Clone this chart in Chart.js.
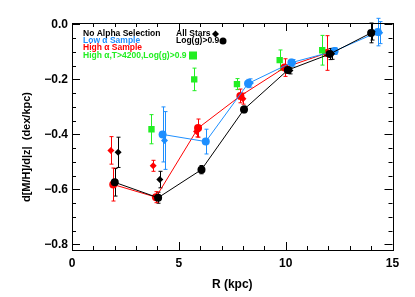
<!DOCTYPE html>
<html>
<head>
<meta charset="utf-8">
<script src="https://cdn.jsdelivr.net/npm/chart.js@4.4.1/dist/chart.umd.min.js"></script>
<style>
  html, body { margin: 0; padding: 0; background: #fff; }
  canvas { display: block; }
</style>
</head>
<body>
<canvas id="chart" width="415" height="297"></canvas>
<script>
// values: R (kpc), gradient (dex/kpc), error
const blackCircR = [2.0, 4.03, 6.06, 8.05, 10.1, 12.06, 14.0];
const blackCircV = [-0.574, -0.63, -0.528, -0.309, -0.166, -0.108, -0.031];
const blackCircE = [0.05, 0.02, 0.015, 0.012, 0.012, 0.02, 0.036];

const blackDiaR = [2.16, 4.11, 10.2, 12.15, 14.05];
const blackDiaV = [-0.465, -0.564, -0.168, -0.107, -0.027];
const blackDiaE = [0.055, 0.03, 0.012, 0.02, 0.03];

const redCircR = [1.93, 3.93, 5.9, 7.88, 9.95, 11.93];
const redCircV = [-0.582, -0.628, -0.377, -0.26, -0.157, -0.104];
const redCircE = [0.06, 0.02, 0.033, 0.025, 0.032, 0.063];

const redDiaR = [1.82, 3.8, 5.83, 8.0];
const redDiaV = [-0.458, -0.514, -0.389, -0.27];
const redDiaE = [0.05, 0.02, 0.02, 0.02];

const blueCircR = [4.24, 6.26, 8.24, 10.27, 12.29, 14.31];
const blueCircV = [-0.40, -0.426, -0.215, -0.139, -0.097, -0.028];
const blueCircE = [0.1, 0.045, 0.015, 0.012, 0.012, 0.05];

const blueDiaR = [4.33, 8.35, 10.35, 14.4];
const blueDiaV = [-0.422, -0.213, -0.14, -0.03];
const blueDiaE = [0.105, 0.015, 0.012, 0.04];

const greenR = [3.72, 5.72, 7.72, 9.72, 11.71];
const greenV = [-0.381, -0.2, -0.217, -0.13, -0.094];
const greenE = [0.053, 0.041, 0.02, 0.037, 0.054];

const xTicks = [0, 5, 10, 15];
const yTicks = [-0.8, -0.6, -0.4, -0.2, 0.0];

const BLACK = '#000000';
const RED = '#ff0000';
const BLUE = '#1e8fff';
const GREEN = '#22ee22';
const FONT = '"Liberation Sans", Arial, sans-serif';

function pts(xs, ys) {
    return xs.map((x, i) => ({ x: x, y: ys[i] }));
}

function series(xs, ys, errs, color, style, radius, line) {
    return {
        data: pts(xs, ys),
        errors: errs,
        showLine: line,
        borderColor: color,
        backgroundColor: color,
        borderWidth: 1,
        pointStyle: style,
        pointRadius: radius,
        pointBorderWidth: 0,
        pointBackgroundColor: color,
        pointBorderColor: color
    };
}

const datasets = [
    series(greenR, greenV, greenE, GREEN, 'rect', 4.5, false),
    series(blackDiaR, blackDiaV, blackDiaE, BLACK, 'rectRot', 3.5, false),
    series(blackCircR, blackCircV, blackCircE, BLACK, 'circle', 4, true),
    series(blueDiaR, blueDiaV, blueDiaE, BLUE, 'rectRot', 3.5, false),
    series(blueCircR, blueCircV, blueCircE, BLUE, 'circle', 4, true),
    series(redDiaR, redDiaV, redDiaE, RED, 'rectRot', 3.5, false),
    series(redCircR, redCircV, redCircE, RED, 'circle', 4, true)
];

// error bars through the scales
const errorBars = {
    id: 'errorBars',
    beforeDatasetsDraw(chart) {
        const ctx = chart.ctx;
        const xs = chart.scales.x, ys = chart.scales.y;
        ctx.save();
        ctx.lineWidth = 1;
        chart.data.datasets.forEach(ds => {
            ctx.strokeStyle = ds.borderColor;
            ds.data.forEach((p, i) => {
                const e = ds.errors[i];
                const px = Math.round(xs.getPixelForValue(p.x)) + 0.5;
                const y1 = ys.getPixelForValue(p.y + e);
                const y2 = ys.getPixelForValue(p.y - e);
                ctx.beginPath();
                ctx.moveTo(px, y1); ctx.lineTo(px, y2);
                ctx.moveTo(px - 2, y1); ctx.lineTo(px + 2, y1);
                ctx.moveTo(px - 2, y2); ctx.lineTo(px + 2, y2);
                ctx.stroke();
            });
        });
        ctx.restore();
    }
};

// box, inward ticks, y title, in-plot legend
const frame = {
    id: 'frame',
    afterDraw(chart) {
        const ctx = chart.ctx;
        const a = chart.chartArea;
        const xs = chart.scales.x, ys = chart.scales.y;
        ctx.save();
        ctx.strokeStyle = '#000';
        ctx.lineWidth = 1;
        ctx.strokeRect(Math.round(a.left) + 0.5, Math.round(a.top) + 0.5,
            Math.round(a.right - a.left), Math.round(a.bottom - a.top));
        ctx.beginPath();
        for (let v = 0; v <= 15; v += 1) {
            const px = Math.round(xs.getPixelForValue(v)) + 0.5;
            const len = v % 5 === 0 ? 8 : 4;
            ctx.moveTo(px, a.bottom); ctx.lineTo(px, a.bottom - len);
            ctx.moveTo(px, a.top); ctx.lineTo(px, a.top + len);
        }
        for (let k = 0; k <= 16; k++) {
            const v = -k * 0.05;
            const py = Math.round(ys.getPixelForValue(v)) + 0.5;
            const len = k % 4 === 0 ? 8 : 4;
            ctx.moveTo(a.left, py); ctx.lineTo(a.left + len, py);
            ctx.moveTo(a.right, py); ctx.lineTo(a.right - len, py);
        }
        ctx.stroke();

        // y title
        ctx.fillStyle = '#000';
        ctx.font = 'bold 11px ' + FONT;
        ctx.textAlign = 'center';
        ctx.textBaseline = 'middle';
        ctx.save();
        ctx.translate(27, 147);
        ctx.rotate(-Math.PI / 2);
        ctx.fillText('d[M/H]/d|z|  (dex/kpc)', 0, 0);
        ctx.restore();

        // legend
        ctx.font = 'bold 8.5px ' + FONT;
        ctx.textAlign = 'left';
        const lx = 83;
        const rows = [
            ['No Alpha Selection', BLACK, 34],
            ['Low \u03b1 Sample', BLUE, 41],
            ['High \u03b1 Sample', RED, 48],
            ['High \u03b1,T>4200,Log(g)>0.9', GREEN, 55.5]
        ];
        rows.forEach(r => {
            ctx.fillStyle = r[1];
            ctx.fillText(r[0], lx, r[2]);
        });
        ctx.fillStyle = GREEN;
        ctx.fillRect(189, 51.5, 8, 8);

        ctx.fillStyle = BLACK;
        ctx.fillText('All Stars', 176, 34);
        ctx.fillText('Log(g)>0.9', 176, 41);
        ctx.beginPath();
        ctx.moveTo(215.5, 30.5); ctx.lineTo(219, 34); ctx.lineTo(215.5, 37.5); ctx.lineTo(212, 34);
        ctx.closePath();
        ctx.fill();
        ctx.beginPath();
        ctx.arc(223, 41, 3.5, 0, Math.PI * 2);
        ctx.fill();
        ctx.restore();
    }
};

new Chart(document.getElementById('chart').getContext('2d'), {
    type: 'scatter',
    data: { datasets: datasets },
    options: {
        responsive: false,
        animation: false,
        layout: { padding: { top: 23, right: 22.5, left: 0, bottom: 0 } },
        plugins: { legend: { display: false }, tooltip: { enabled: false } },
        scales: {
            x: {
                type: 'linear', min: 0, max: 15,
                grid: { display: false, drawTicks: false },
                border: { display: false },
                afterBuildTicks: s => { s.ticks = xTicks.map(v => ({ value: v })); },
                afterFit: s => { s.height = 47; },
                ticks: {
                    color: '#000', padding: 6, maxRotation: 0,
                    font: { family: FONT, size: 12, weight: 'bold' },
                    callback: v => String(v)
                },
                title: {
                    display: true, text: 'R (kpc)', color: '#000', padding: { top: 0, bottom: 5 },
                    font: { family: FONT, size: 12, weight: 'bold' }
                }
            },
            y: {
                type: 'linear', min: -0.82, max: 0.005,
                grid: { display: false, drawTicks: false },
                border: { display: false },
                afterBuildTicks: s => { s.ticks = yTicks.map(v => ({ value: v })); },
                afterFit: s => { s.width = 72; },
                ticks: {
                    color: '#000', padding: 4,
                    font: { family: FONT, size: 12, weight: 'bold' },
                    callback: v => (v < 0 ? '\u2212' : '') + Math.abs(v).toFixed(1)
                }
            }
        }
    },
    plugins: [errorBars, frame]
});
</script>
</body>
</html>
